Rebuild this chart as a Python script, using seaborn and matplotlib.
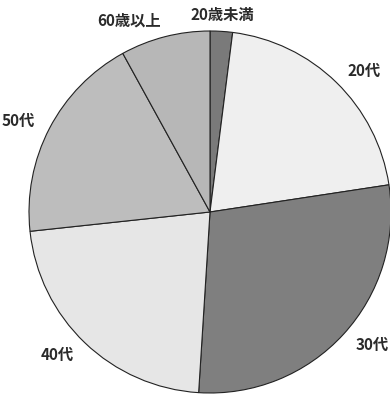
import matplotlib
matplotlib.use('Agg')
import matplotlib.pyplot as plt
import seaborn as sns

# age groups and their shares (%)
labels = ['20歳未満', '20代', '30代', '40代', '50代', '60歳以上']
shares = [2.0, 20.6, 28.4, 22.3, 18.7, 8.0]
colors = ['#7a7a7a', '#efefef', '#7f7f7f', '#e6e6e6', '#bdbdbd', '#b7b7b7']

sns.set_theme(style='white')
plt.rcParams['font.family'] = ['Noto Sans CJK JP', 'DejaVu Sans']

fig = plt.figure(figsize=(3.9, 3.96), dpi=100)
# center of pie at (210, 212) px, radius ~181 px
ax = fig.add_axes([(210 - 181) / 390, (396 - 212 - 181) / 396, 362 / 390, 362 / 396])

wedges, texts = ax.pie(
    shares,
    labels=labels,
    colors=sns.color_palette(colors),
    startangle=90,
    counterclock=False,
    labeldistance=1.09,
    wedgeprops=dict(edgecolor='#222222', linewidth=0.8),
    textprops=dict(fontsize=11, color='#2a2a2a', fontweight='bold'),
)
for w in wedges:
    w.set_clip_on(False)
texts[0].set_ha('center')

ax.set_xlim(-1, 1)
ax.set_ylim(-1, 1)
ax.set_aspect('equal')
ax.axis('off')

fig.savefig('out.png', dpi=100)
